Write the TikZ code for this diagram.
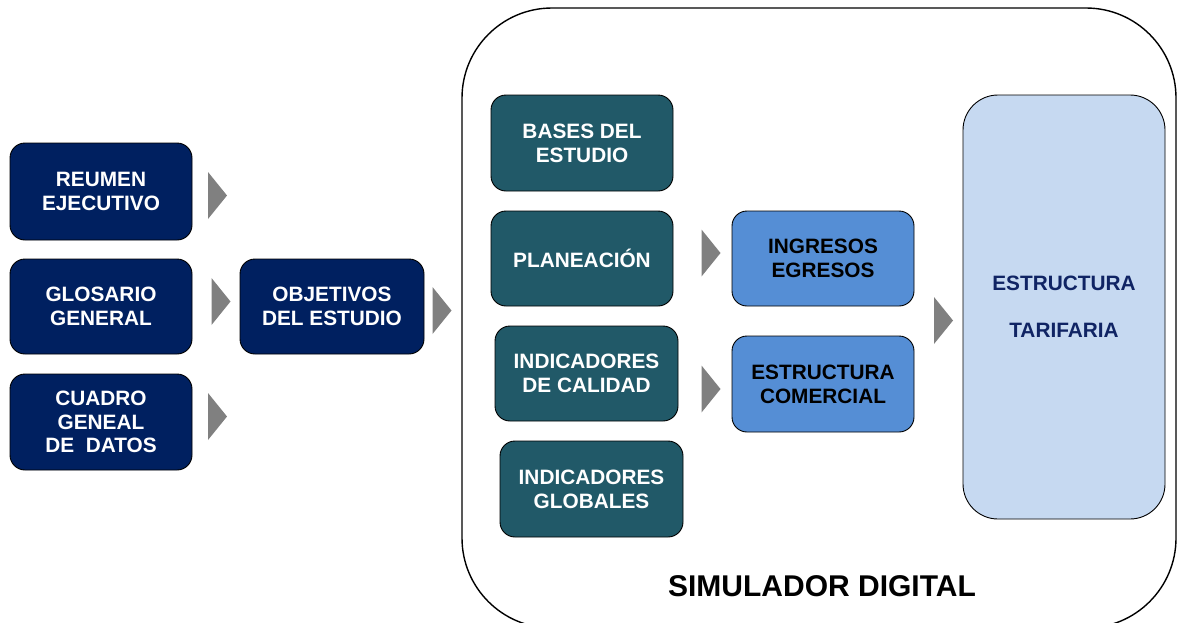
\documentclass[tikz,border=0pt]{standalone}
\usepackage{fontspec}
\setmainfont{Liberation Sans}
\definecolor{navybox}{RGB}{0,32,96}
\definecolor{tealbox}{RGB}{33,89,104}
\definecolor{midblue}{RGB}{85,142,213}
\definecolor{lightblue}{RGB}{198,217,241}
\definecolor{tartext}{RGB}{16,36,100}
\definecolor{arrowgray}{RGB}{128,128,128}
\tikzset{
  basebox/.style={draw=black, line width=0.9pt, rounded corners=15pt, inner sep=0pt, align=center,
    font=\fontsize{20.8}{23.8}\selectfont\bfseries},
  navy/.style={basebox, fill=navybox, text=white},
  teal/.style={basebox, fill=tealbox, text=white},
  mid/.style={basebox, fill=midblue, text=black},
  chev/.pic={\fill[arrowgray] (-9.5,-23.5) -- (9.5,0) -- (-9.5,23.5) -- cycle;}
}
\begin{document}
\begin{tikzpicture}[x=1pt,y=-1pt]
\useasboundingbox (0,0) rectangle (1177,622);
\clip (0,0) rectangle (1177,622);
\fill[white] (0,0) rectangle (1177,622);
% container
\draw[line width=1.4pt, rounded corners=90pt] (462,8) rectangle (1176,628);
\node[font=\fontsize{30}{36}\selectfont\bfseries] (sim) at (822,586) {SIMULADOR DIGITAL};
% left column
\node[navy, minimum width=182pt, minimum height=97pt] (reu) at (101,191.5) {REUMEN\\EJECUTIVO};
\node[navy, minimum width=182pt, minimum height=95pt] (glo) at (101,306.5) {GLOSARIO\\GENERAL};
\node[navy, minimum width=182pt, minimum height=96pt] (cua) at (101,422) {CUADRO\\GENEAL\\DE\ \ DATOS};
\node[navy, minimum width=184pt, minimum height=95pt] (obj) at (332,306.5) {OBJETIVOS\\DEL ESTUDIO};
% simulator content
\node[teal, minimum width=182pt, minimum height=96pt] (bas) at (582,143) {BASES DEL\\ESTUDIO};
\node[teal, minimum width=182pt, minimum height=95pt] (pla) at (582,258.5) {PLANEACIÓN};
\node[teal, minimum width=183pt, minimum height=95pt] (cal) at (586.5,373.5) {INDICADORES\\DE CALIDAD};
\node[teal, minimum width=183pt, minimum height=96pt] (glb) at (591.5,489) {INDICADORES\\GLOBALES};
\node[mid, minimum width=182pt, minimum height=95pt] (ing) at (823,258.5) {INGRESOS\\EGRESOS};
\node[mid, minimum width=182pt, minimum height=96pt] (com) at (823,384) {ESTRUCTURA\\COMERCIAL};
\node[basebox, rounded corners=35pt, fill=lightblue, text=tartext, minimum width=202pt, minimum height=424pt,
  font=\fontsize{20.8}{23.5}\selectfont\bfseries] (tar) at (1064,307) {ESTRUCTURA\\[23.5pt]TARIFARIA};
% chevrons
\pic (a1) at (217.5,195.5) {chev};
\pic (a2) at (221,301.5) {chev};
\pic (a3) at (217.5,416.5) {chev};
\pic (a4) at (442,310.5) {chev};
\pic (a5) at (711,253) {chev};
\pic (a6) at (711,389) {chev};
\pic (a7) at (943.5,320.5) {chev};
\end{tikzpicture}
\end{document}
